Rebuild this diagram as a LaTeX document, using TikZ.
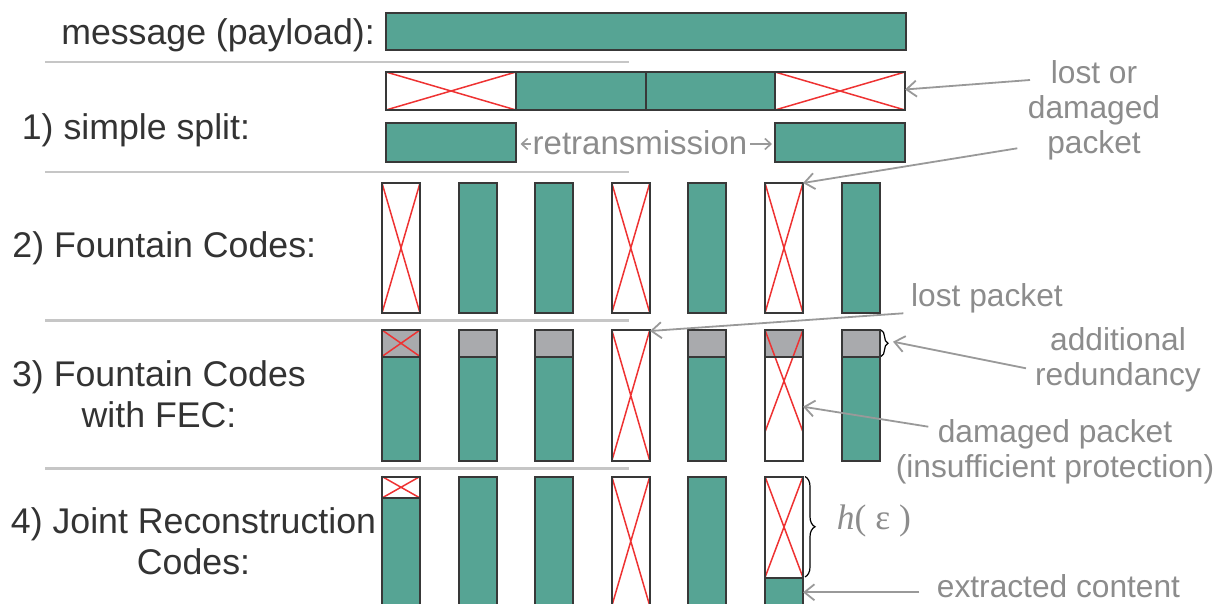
\documentclass[tikz,border=0pt]{standalone}
\usepackage{fontspec}
\setmainfont{Liberation Sans}
\newfontfamily\serifnote{Liberation Serif}
\usetikzlibrary{arrows.meta,decorations.pathreplacing}
\definecolor{pktteal}{HTML}{56A494}
\definecolor{topgray}{HTML}{A9AAAD}
\definecolor{edgegray}{HTML}{383838}
\definecolor{xred}{HTML}{EE3232}
\definecolor{sepgray}{HTML}{C6C6C6}
\definecolor{lblgray}{HTML}{333333}
\definecolor{notegray}{HTML}{8C8C8C}
\definecolor{arrowgray}{HTML}{999999}
\newcommand\stacklines[1]{\begin{tabular}[t]{@{}c@{}}#1\end{tabular}}
\begin{document}
\begin{tikzpicture}[x=1pt,y=-1pt,
  sepline/.style={draw=sepgray,line width=2.4},
  tealfill/.style={fill=pktteal},
  outline/.style={draw=edgegray,line width=2},
  xline/.style={draw=xred,line width=1.5},
  lbl/.style={text=lblgray,font=\fontsize{35.7}{41}\selectfont,inner sep=0},
  note/.style={text=notegray,font=\fontsize{31.7}{35}\selectfont,inner sep=0},
  callout/.style={draw=arrowgray,line width=1.8,-{Straight Barb[length=10pt,width=16pt]}},
  smallarrow/.style={draw=arrowgray,line width=1.6,-{Straight Barb[length=6pt,width=11pt]}},
  bracestyle/.style={draw=black,line width=1.2,decorate}
]
\useasboundingbox (0,0) rectangle (1226,604);

% separators
\draw[sepline] (45,62) -- (629,62);
\draw[sepline] (45,172) -- (629,172);
\draw[sepline] (45,320.5) -- (629,320.5);
\draw[sepline] (45,468.5) -- (629,468.5);

% left labels
\node[lbl,anchor=base east] (lmsg) at (375,45) {message (payload):};
\node[lbl,anchor=base west] (l1) at (21.7,140) {1) simple split:};
\node[lbl,anchor=base west] (l2) at (12.3,257.3) {2) Fountain Codes:};
\node[lbl,anchor=base] (l3) at (159,386.7) {\stacklines{3) Fountain Codes\\with FEC:}};
\node[lbl,anchor=base] (l4) at (193.5,533.3) {\stacklines{4) Joint Reconstruction\\Codes:}};

% message bar
\draw[tealfill,outline] (386,13) rectangle (906,50.5);

% row 1: simple split
\fill[pktteal] (516,72) rectangle (775,110);
\foreach \a/\b in {386/516,775/905}{
  \draw[xline] (\a,72) -- (\b,110) (\a,110) -- (\b,72);
}
\foreach \a/\b in {386/516,516/646,646/775,775/905}{
  \draw[outline] (\a,72) rectangle (\b,110);
}
\draw[tealfill,outline] (386,123) rectangle (516,162);
\draw[tealfill,outline] (775,123) rectangle (905,162);
\node[note,anchor=base,font=\fontsize{33}{36}\selectfont] (rt) at (640,155) {retransmission};
\coordinate (rtLs) at (531,144);
\coordinate (rtLe) at (520.5,144);
\coordinate (rtRs) at (750,144);
\coordinate (rtRe) at (772,144);
\draw[smallarrow] (rtLs) -- (rtLe);
\draw[smallarrow] (rtRs) -- (rtRe);

% row 2: fountain codes
\foreach \i in {1,2,4,6}{
  \fill[pktteal] ({382+76.6*\i},183) rectangle ({420+76.6*\i},313);
}
\foreach \i in {0,3,5}{
  \draw[xline] ({382+76.6*\i},183) -- ({420+76.6*\i},313)
               ({382+76.6*\i},313) -- ({420+76.6*\i},183);
}
\foreach \i in {0,...,6}{
  \draw[outline] ({382+76.6*\i},183) rectangle ({420+76.6*\i},313);
}

% row 3: fountain codes with FEC
\foreach \i in {0,1,2,4,5,6}{
  \fill[topgray] ({382+76.6*\i},330) rectangle ({420+76.6*\i},356.5);
}
\foreach \i in {0,1,2,4,6}{
  \fill[pktteal] ({382+76.6*\i},356.5) rectangle ({420+76.6*\i},461);
}
\draw[xline] (382,330) -- (420,356.5) (382,356.5) -- (420,330);
\draw[xline] ({382+76.6*3},330) -- ({420+76.6*3},461) ({382+76.6*3},461) -- ({420+76.6*3},330);
\draw[xline] ({382+76.6*5},330) -- ({420+76.6*5},432) ({382+76.6*5},432) -- ({420+76.6*5},330);
\foreach \i in {0,1,2,4,5,6}{
  \draw[outline] ({382+76.6*\i},356.5) -- ({420+76.6*\i},356.5);
}
\foreach \i in {0,...,6}{
  \draw[outline] ({382+76.6*\i},330) rectangle ({420+76.6*\i},461);
}

% row 4: joint reconstruction codes
\fill[pktteal] (382,498) rectangle (420,606);
\foreach \i in {1,2,4}{
  \fill[pktteal] ({382+76.6*\i},476.5) rectangle ({420+76.6*\i},606);
}
\fill[pktteal] ({382+76.6*5},577.5) rectangle ({420+76.6*5},606);
\draw[xline] (382,476.5) -- (420,498) (382,498) -- (420,476.5);
\draw[xline] ({382+76.6*3},476.5) -- ({420+76.6*3},606) ({382+76.6*3},606) -- ({420+76.6*3},476.5);
\draw[xline] ({382+76.6*5},476.5) -- ({420+76.6*5},577.5) ({382+76.6*5},577.5) -- ({420+76.6*5},476.5);
\draw[outline] (382,498) -- (420,498);
\draw[outline] ({382+76.6*5},577.5) -- ({420+76.6*5},577.5);
\foreach \i in {0,...,5}{
  \draw[outline] ({382+76.6*\i},476.5) rectangle ({420+76.6*\i},606);
}

% braces
\draw[bracestyle,decoration={brace,amplitude=7pt}] (881,330) -- (881,356.5);
\draw[bracestyle,decoration={brace,amplitude=10pt}] (805,476.5) -- (805,577);

% annotations
\node[note,anchor=base] (nlost) at (1094,84) {\stacklines{lost or\\damaged\\packet}};
\node[note,anchor=base west] (nlp) at (911,306) {lost packet};
\node[note,anchor=base] (nred) at (1118,350) {\stacklines{additional\\redundancy}};
\node[note,anchor=base] (ndam) at (1055,442.3) {\stacklines{damaged packet\\(insufficient protection)}};
\node[note,anchor=base west] (nh) at (836.7,529.3) {\serifnote\fontsize{35.5}{40}\selectfont\textit{h}( ε )};
\node[note,anchor=base west] (next) at (936.7,597.5) {extracted content};

\coordinate (a1s) at (1030,80);      \coordinate (a1e) at (905,89.5);
\coordinate (a2s) at (1017.3,148.3); \coordinate (a2e) at (803,183);
\coordinate (a3s) at (903.3,313.3);  \coordinate (a3e) at (650,331);
\coordinate (a4s) at (1026,368.3);   \coordinate (a4e) at (893,341.7);
\coordinate (a5s) at (928.3,426.7);  \coordinate (a5e) at (803,406.7);
\coordinate (a6s) at (919.3,592.3);  \coordinate (a6e) at (803,592.3);
\draw[callout] (a1s) -- (a1e);
\draw[callout] (a2s) -- (a2e);
\draw[callout] (a3s) -- (a3e);
\draw[callout] (a4s) -- (a4e);
\draw[callout] (a5s) -- (a5e);
\draw[callout] (a6s) -- (a6e);
\end{tikzpicture}
\end{document}
